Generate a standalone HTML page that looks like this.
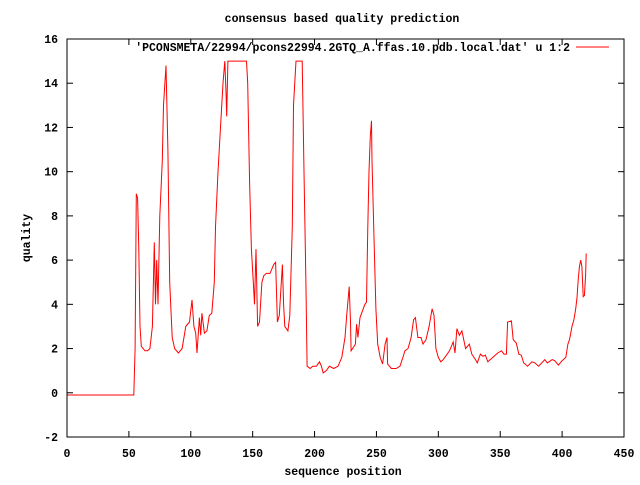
<!DOCTYPE html>
<html><head><meta charset="utf-8"><style>
body{margin:0;background:#fff}
svg text{font-family:"Liberation Mono",monospace;font-size:11.5px;font-weight:bold;fill:#000}
</style></head><body>
<svg id="chart" width="640" height="480" xmlns="http://www.w3.org/2000/svg">
<text x="342" y="22" text-anchor="middle">consensus based quality prediction</text>
<text transform="translate(30,238) rotate(-90)" text-anchor="middle">quality</text>
<text x="343" y="475" text-anchor="middle">sequence position</text>
<g id="axes"></g>
<g id="series"></g>
<rect x="67" y="39" width="557" height="398" fill="none" stroke="#000" stroke-width="1"/>
<g>
<text x="570" y="51" text-anchor="end">'PCONSMETA/22994/pcons22994.2GTQ_A.ffas.10.pdb.local.dat' u 1:2</text>
<line x1="576" y1="47" x2="609" y2="47" stroke="#f00" stroke-width="1"/>
</g>
</svg>
<script>
const xTicks=[0,50,100,150,200,250,300,350,400,450];
const yTicks=[-2,0,2,4,6,8,10,12,14,16];
const positions=[0,54,55,56,57,58,59,60,63,65,67,69,70.5,71.5,72.5,73.5,75,77,78,80,81.5,83,85,87,90,93,96,99,101,102.5,104,105,107,108,109,111,113,115,117,119,120,122,124,126,127.5,128.5,129,130,145,146,147.5,149,150.5,151.5,152.7,154,155.5,157.5,159,161,164,167,168.5,170,171.5,174,175,176,178.5,180,182,183,185,190,191.5,193,194,196.5,198.5,201.5,204,205.5,207,209.5,212,215.5,219,222,224.6,226,228,229,229.5,233,234,235,236.7,238,240.7,242,243,244,245,246,246.4,248,249.6,251,253,255,257,258.5,259,262,266,269,271.4,273,275.5,278,280,281.5,283.5,286,287.6,290,292.5,295,296.5,298,300,302,304,309,312,313.5,315,317,319,322,325,327,330,331.5,334,336,338,340,344,348,351,353,355,356,359,360.5,363,365,367,369,372,375.6,378,381,386,388,392,394,397,400,403,404.7,406,408,409.5,411,412,413,414,415,416,417,418,419,419.5];
const quality=[-0.1,-0.1,2,9,8.8,6.5,3,2.1,1.9,1.9,2,3,6.8,4,6,4,8,10.5,13,14.8,11,5,2.5,2,1.8,2,3,3.2,4.2,3,2.7,1.8,3.4,2.6,3.6,2.7,2.8,3.5,3.6,5,7.5,10,12,14,15,13.5,12.5,15,15,14,9.5,6.5,5,4,6.5,3,3.2,5,5.3,5.4,5.4,5.8,5.9,3.2,3.5,5.8,4,3,2.8,3.5,7.5,13,15,15,10,5,1.2,1.1,1.2,1.2,1.4,1.2,0.9,1,1.2,1.1,1.2,1.6,2.5,3.5,4.8,3.2,1.9,2.2,3.1,2.5,3.4,3.6,4,4.1,7.5,10,11.6,12.3,10.5,7,3.8,2.2,1.6,1.3,2.2,2.5,1.3,1.1,1.1,1.2,1.6,1.9,2,2.5,3.3,3.4,2.5,2.5,2.2,2.4,3,3.8,3.5,2,1.6,1.4,1.5,1.9,2.3,1.8,2.9,2.6,2.8,2,2.2,1.75,1.5,1.35,1.75,1.65,1.7,1.4,1.6,1.8,1.9,1.75,1.75,3.2,3.25,2.4,2.25,1.75,1.7,1.35,1.2,1.4,1.35,1.2,1.5,1.35,1.5,1.45,1.25,1.45,1.6,2.2,2.4,3,3.3,3.8,4.3,5.1,5.7,6,5.7,4.35,4.4,5.3,6.3];
const NS="http://www.w3.org/2000/svg";
const L=67,R=624,T=39,B=437,X0=0,X1=450,Y0=-2,Y1=16;
const sx=v=>L+(v-X0)/(X1-X0)*(R-L);
const sy=v=>B-(v-Y0)/(Y1-Y0)*(B-T);
const axes=document.getElementById('axes');
function mk(tag,attrs){const e=document.createElementNS(NS,tag);for(const k in attrs)e.setAttribute(k,attrs[k]);return e;}
xTicks.forEach(t=>{
  const x=sx(t);
  const a=mk('line',{x1:x,y1:B,x2:x,y2:B-6,stroke:'#000'});
  
  
  axes.appendChild(a);
  const b=mk('line',{x1:x,y1:T,x2:x,y2:T+6,stroke:'#000'});
  
  
  axes.appendChild(b);
  const tx=mk('text',{x:x,y:B+20,'text-anchor':'middle'});
  
  
  tx.textContent=t;axes.appendChild(tx);
});
yTicks.forEach(t=>{
  const y=sy(t);
  const a=mk('line',{x1:L,y1:y,x2:L+6,y2:y,stroke:'#000'});
  
  
  axes.appendChild(a);
  const b=mk('line',{x1:R,y1:y,x2:R-6,y2:y,stroke:'#000'});
  
  
  axes.appendChild(b);
  const tx=mk('text',{x:L-9,y:y+4,'text-anchor':'end'});
  
  
  tx.textContent=t;axes.appendChild(tx);
});
const d=positions.map((p,i)=>(i?'L':'M')+sx(p).toFixed(1)+','+sy(quality[i]).toFixed(1)).join(' ');
const path=mk('path',{d:d,fill:'none',stroke:'#f00','stroke-width':1});


document.getElementById('series').appendChild(path);
</script>
</body></html>
